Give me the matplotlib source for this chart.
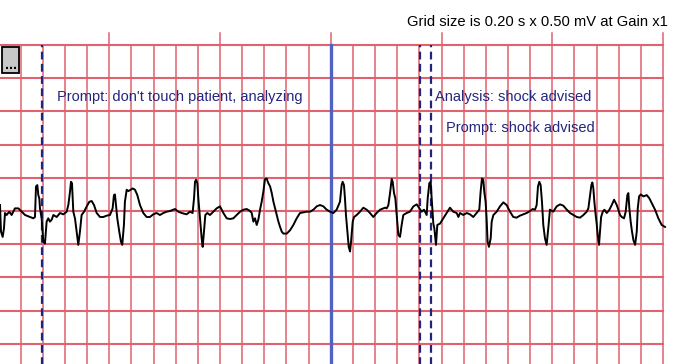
import numpy as np
import matplotlib.pyplot as plt
from matplotlib.patches import Rectangle

t1 = [-0.187, -0.178, -0.163, -0.151, -0.142, -0.127, -0.103, -0.082, -0.052, -0.021,
      0.009, 0.039, 0.084, 0.114, 0.129, 0.138, 0.150, 0.159, 0.168, 0.174,
      0.189, 0.204, 0.219, 0.234, 0.249, 0.264, 0.280, 0.295, 0.325, 0.355,
      0.385, 0.415, 0.430, 0.445, 0.454, 0.463, 0.475, 0.490, 0.505, 0.520,
      0.535, 0.550, 0.572, 0.596, 0.620, 0.641, 0.662, 0.686, 0.716, 0.746, 0.776]
v1 = [0.09, -0.31, -0.39, -0.26, -0.03, -0.06, -0.01, -0.06, 0.04, 0.04,
      -0.01, -0.06, -0.09, -0.11, -0.09, 0.37, 0.39, 0.24, 0.19, 0.04,
      -0.11, -0.46, -0.49, -0.16, -0.11, -0.16, -0.13, -0.06, -0.09, -0.03,
      -0.05, -0.01, 0.09, 0.29, 0.44, 0.42, -0.01, -0.11, -0.31, -0.51,
      -0.31, -0.06, -0.01, 0.07, 0.14, 0.15, 0.09, -0.03, -0.09, -0.09, -0.07]

t2 = [0.806, 0.830, 0.842, 0.851, 0.860, 0.872, 0.890, 0.905, 0.917, 0.932,
      0.941, 0.957, 0.972, 0.993, 1.011, 1.032, 1.053, 1.077, 1.107, 1.137,
      1.167, 1.197, 1.227, 1.257, 1.288, 1.318, 1.348, 1.393, 1.423, 1.453,
      1.498, 1.528, 1.552, 1.565, 1.574, 1.583, 1.595, 1.604, 1.619, 1.634,
      1.643, 1.655, 1.667, 1.685, 1.709, 1.739, 1.769]
v2 = [-0.06, 0.04, 0.24, 0.25, 0.09, -0.11, -0.31, -0.46, -0.51, -0.21,
      0.14, 0.32, 0.30, 0.32, 0.34, 0.32, 0.24, 0.09, -0.03, -0.09,
      -0.09, -0.05, -0.03, -0.06, -0.03, -0.01, 0.00, 0.03, -0.01, -0.03,
      -0.05, -0.01, -0.03, 0.19, 0.44, 0.47, 0.42, 0.19, -0.11, -0.41,
      -0.54, -0.31, -0.06, -0.03, -0.06, -0.01, 0.04]

t3 = [1.800, 1.830, 1.860, 1.890, 1.920, 1.951, 1.981, 2.011, 2.041, 2.071,
      2.086, 2.101, 2.116, 2.131, 2.146, 2.161, 2.176, 2.191, 2.206, 2.221,
      2.236, 2.252, 2.267, 2.282, 2.297, 2.312, 2.327, 2.342, 2.357, 2.372,
      2.402, 2.432, 2.462, 2.492, 2.522, 2.553, 2.583, 2.613, 2.643, 2.673,
      2.703, 2.733, 2.763, 2.793, 2.823]
v3 = [0.07, -0.03, -0.11, -0.12, -0.11, -0.06, -0.01, 0.02, 0.03, 0.00,
      -0.03, -0.16, -0.11, -0.21, -0.13, 0.02, 0.14, 0.29, 0.48, 0.49,
      0.42, 0.37, 0.27, 0.14, 0.04, -0.06, -0.16, -0.24, -0.31, -0.34,
      -0.34, -0.29, -0.21, -0.11, -0.03, -0.02, -0.01, -0.01, 0.02, 0.07,
      0.09, 0.07, 0.02, -0.01, -0.03]

t4 = [2.853, 2.883, 2.898, 2.907, 2.919, 2.928, 2.937, 2.950, 2.962, 2.974,
      2.983, 2.998, 3.010, 3.034, 3.064, 3.094, 3.124, 3.154, 3.184, 3.214,
      3.245, 3.275, 3.290, 3.305, 3.320, 3.335, 3.350, 3.359, 3.371, 3.383,
      3.395, 3.410, 3.425, 3.440, 3.455, 3.485, 3.515, 3.546, 3.576, 3.600,
      3.621, 3.642, 3.666, 3.675, 3.690, 3.702, 3.711, 3.726, 3.735, 3.750,
      3.762, 3.786]
v4 = [0.02, 0.14, 0.39, 0.44, 0.39, 0.19, -0.06, -0.31, -0.54, -0.61,
      -0.46, -0.16, -0.09, -0.06, -0.01, 0.05, 0.02, -0.03, -0.09, -0.03,
      0.02, 0.04, 0.05, 0.04, 0.09, 0.27, 0.48, 0.44, 0.27, 0.19,
      -0.06, -0.36, -0.39, -0.21, -0.06, -0.03, -0.01, 0.07, 0.10, 0.04,
      -0.01, 0.02, -0.06, 0.19, 0.42, 0.44, 0.19, -0.19, -0.26, -0.51,
      -0.21, -0.19]

t5 = [3.816, 3.846, 3.876, 3.906, 3.937, 3.952, 3.967, 3.997, 4.027, 4.057,
      4.087, 4.117, 4.141, 4.153, 4.165, 4.177, 4.186, 4.198, 4.207, 4.216,
      4.228, 4.244, 4.253, 4.268, 4.298, 4.328, 4.358, 4.388, 4.418, 4.448,
      4.478, 4.508, 4.539, 4.569, 4.599, 4.623, 4.644, 4.659, 4.671, 4.683,
      4.695, 4.707, 4.719, 4.734, 4.749, 4.764, 4.779, 4.809]
v5 = [-0.11, -0.03, 0.05, -0.01, -0.03, -0.09, -0.03, -0.06, -0.03, -0.05,
      -0.09, -0.03, 0.02, 0.29, 0.49, 0.47, 0.29, 0.14, -0.11, -0.46,
      -0.54, -0.41, -0.16, -0.06, -0.01, 0.07, 0.13, 0.09, -0.01, -0.09,
      -0.10, -0.07, -0.05, -0.03, 0.00, 0.03, 0.02, 0.09, 0.37, 0.44,
      0.39, 0.14, -0.21, -0.41, -0.51, -0.26, 0.02, -0.01]

t6 = [4.840, 4.870, 4.900, 4.931, 4.961, 4.991, 5.021, 5.051, 5.081, 5.111,
      5.126, 5.141, 5.153, 5.162, 5.171, 5.180, 5.192, 5.201, 5.210, 5.222,
      5.231, 5.241, 5.256, 5.271, 5.292, 5.316, 5.337, 5.358, 5.382, 5.397,
      5.412, 5.427, 5.448, 5.463, 5.478, 5.487, 5.496, 5.508, 5.520, 5.533,
      5.548, 5.563, 5.572, 5.584, 5.599, 5.623, 5.653, 5.677, 5.698, 5.728,
      5.758, 5.788, 5.818]
v6 = [0.07, 0.10, 0.08, 0.02, -0.03, -0.06, -0.09, -0.10, -0.06, -0.01,
      0.04, 0.24, 0.39, 0.43, 0.34, 0.14, -0.06, -0.19, -0.36, -0.51,
      -0.31, -0.09, -0.01, 0.02, -0.03, 0.02, 0.09, 0.17, 0.09, 0.02,
      -0.06, -0.09, -0.11, -0.01, 0.24, 0.27, 0.04, -0.16, -0.31, -0.44,
      -0.51, -0.31, 0.04, 0.22, 0.25, 0.22, 0.24, 0.19, 0.12, 0.02,
      -0.11, -0.21, -0.24]

# event markers (s)
dashed_marks = [0.195, 3.605, 3.705]
solid_mark = 2.8
notes = ["Prompt: don't touch patient, analyzing", "Analysis: shock advised", "Prompt: shock advised"]
note_t = [0.33, 3.74, 3.84]
note_mv = [1.72, 1.72, 1.245]
header = "Grid size is 0.20 s x 0.50 mV at Gain x1"

grid_dt = 0.2
grid_dv = 0.5

ecg_t = np.concatenate([t1, t2, t3, t4, t5, t6])
ecg_mv = np.concatenate([v1, v2, v3, v4, v5, v6])

plt.rcParams['font.family'] = ['Liberation Sans', 'DejaVu Sans']

fig = plt.figure(figsize=(7, 3.64), dpi=100)
ax = fig.add_axes([0, 0, 1, 1])
ax.set_xlim(-0.187, 6.134)
ax.set_ylim(-2.304, 3.178)
ax.axis('off')

red = '#e0626e'
t_end = 29 * grid_dt
v_top = 2.5
for k in range(30):
    x = k * grid_dt
    top = 2.68 if k % 5 == 4 else v_top
    ax.plot([x, x], [-2.4, top], color=red, lw=1.1, zorder=1)
for j in range(10):
    y = v_top - j * grid_dv
    ax.plot([-0.2, t_end], [y, y], color=red, lw=1.5, zorder=1)

for x in dashed_marks:
    ax.plot([x, x], [-2.4, v_top], color='#23237a', lw=1.6, dashes=(3.5, 2), zorder=2)
ax.plot([solid_mark, solid_mark], [-2.4, v_top], color='#5262c2', lw=2.4, zorder=2)

ax.plot(ecg_t, ecg_mv, color='black', lw=1.4, zorder=3)

for s, x, y in zip(notes, note_t, note_mv):
    ax.text(x, y, s, color='#23267e', fontsize=10.5, ha='left', va='center', zorder=4)
ax.text(5.845, 2.85, header, color='black', fontsize=10.6, ha='right', va='center')

# small button at top-left
ax.add_patch(Rectangle((-0.17, 2.08), 0.158, 0.39, facecolor='#c8c8c8',
                       edgecolor='black', lw=1.3, zorder=5))
ax.text(-0.091, 2.2, '...', color='black', fontsize=10, fontweight='bold',
        ha='center', va='center', zorder=6)

fig.savefig('out.png', dpi=100)
